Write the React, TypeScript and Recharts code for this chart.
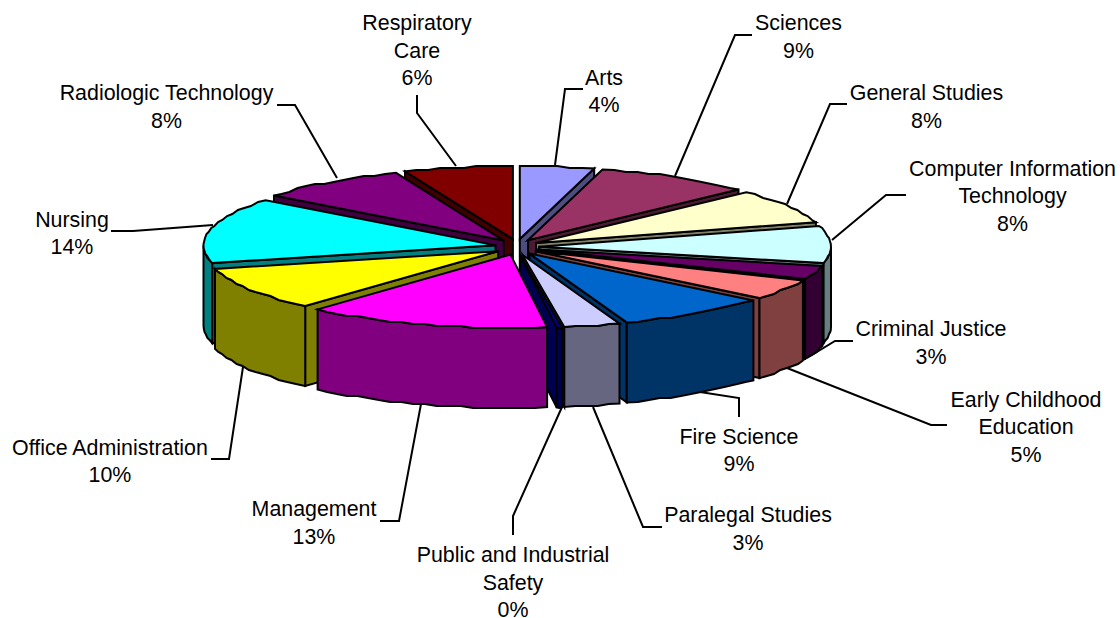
import { PieChart, Pie } from "recharts";

const programs = [
  "Arts", "Sciences", "General Studies", "Computer Information Technology", "Criminal Justice",
  "Early Childhood Education", "Fire Science", "Paralegal Studies", "Public and Industrial Safety",
  "Management", "Office Administration", "Nursing", "Radiologic Technology", "Respiratory Care",
];
const shares = [4.1, 8.7, 7.6, 8.2, 3.0, 4.5, 8.5, 3.1, 0.3, 13.49, 9.6, 14.49, 8.4, 6.02];
const shareLabels = ["4%", "9%", "8%", "8%", "3%", "5%", "9%", "3%", "0%", "13%", "10%", "14%", "8%", "6%"];
const topColors = [
  "#9999FF", "#993366", "#FFFFCC", "#CCFFFF", "#660066", "#FF8080", "#0066CC",
  "#CCCCFF", "#000080", "#FF00FF", "#FFFF00", "#00FFFF", "#800080", "#800000",
];
const sideColors = [
  "#4D4D80", "#4D1A33", "#808066", "#668080", "#330033", "#804040", "#003366",
  "#666680", "#000050", "#800080", "#808000", "#008080", "#400040", "#400000",
];

// back of the pie first, front last
const paintOrder = [13, 0, 12, 1, 11, 2, 3, 10, 4, 5, 6, 7, 8, 9];

const data = programs.map((name, i) => ({ name, share: shares[i] }));

const CX = 517;
const CY = 247;
const RX = 292;
const SQUASH = 0.25;
const DEPTH = 80;
const EXPLODE_X = 22;
const EXPLODE_Y = 8;
const STEP = 2; // the rim of the original is stair-stepped

// text lines with centre and first line y, then the leader line
const labelLayout: { lines: string[]; x: number; y: number; leader: number[][] }[] = [
  { lines: ["Arts"], x: 604, y: 77.5, leader: [[583, 89], [565, 89], [555, 165]] },
  { lines: ["Sciences"], x: 798.5, y: 23, leader: [[752, 35], [735, 35], [675, 176]] },
  { lines: ["General Studies"], x: 926.5, y: 93, leader: [[847, 104], [830, 104], [787, 204]] },
  { lines: ["Computer Information", "Technology"], x: 1012.5, y: 168.5, leader: [[906, 195], [886, 195], [832, 240]] },
  { lines: ["Criminal Justice"], x: 931, y: 329, leader: [[853, 341], [835, 341], [807, 358]] },
  { lines: ["Early Childhood", "Education"], x: 1026, y: 399.5, leader: [[947, 425], [931, 425], [787, 368]] },
  { lines: ["Fire Science"], x: 739, y: 436.5, leader: [[739, 417], [739, 398], [700, 392]] },
  { lines: ["Paralegal Studies"], x: 748, y: 515, leader: [[662, 527], [643, 527], [593, 407]] },
  { lines: ["Public and Industrial", "Safety"], x: 513, y: 555, leader: [[513, 535], [513, 516], [562, 407]] },
  { lines: ["Management"], x: 314, y: 509, leader: [[380, 521], [399, 521], [421, 404]] },
  { lines: ["Office Administration"], x: 110, y: 447.5, leader: [[211, 459], [229, 459], [243, 367]] },
  { lines: ["Nursing"], x: 72, y: 219.5, leader: [[111, 231], [133, 231], [213, 225]] },
  { lines: ["Radiologic Technology"], x: 166.5, y: 93, leader: [[277, 105], [295, 105], [337, 178]] },
  { lines: ["Respiratory", "Care"], x: 417, y: 23, leader: [[417, 95], [417, 113], [456, 166]] },
];

const rad = (deg: number) => (deg * Math.PI) / 180;

const toPath = (pts: number[][]) =>
  "M" + pts.map((p) => `${p[0].toFixed(1)},${p[1].toFixed(1)}`).join("L") + "Z";

// one slice as 3d block: hidden walls are skipped, clockwise angle 0 is the top
function Slice3D({ props, index }: { props: any; index: number }) {
  const { cx, cy, outerRadius, startAngle, endAngle } = props;
  const t0 = 90 - startAngle;
  const t1 = 90 - endAngle;
  const mid = rad((t0 + t1) / 2);
  const ax = cx + EXPLODE_X * Math.sin(mid);
  const ay = cy - EXPLODE_Y * Math.cos(mid);
  const at = (t: number, drop = 0) => [
    ax + outerRadius * Math.sin(rad(t)),
    ay - outerRadius * SQUASH * Math.cos(rad(t)) + drop,
  ];
  const arc = (from: number, to: number, drop = 0) => {
    const n = Math.max(2, Math.ceil((to - from) / 2.5));
    return Array.from({ length: n + 1 }, (_, i) => {
      const p = at(from + ((to - from) * i) / n);
      const inner = i > 0 && i < n;
      return [p[0], (inner ? Math.round(p[1] / STEP) * STEP : p[1]) + drop];
    });
  };
  const side = sideColors[index];
  const common = { stroke: "#000", strokeWidth: 2, strokeLinejoin: "miter" as const };
  const wall = (t: number) => {
    const a = at(t);
    const b = at(t, DEPTH);
    return toPath([[ax, ay], a, b, [ax, ay + DEPTH]]);
  };
  const lo = Math.max(t0, 90);
  const hi = Math.min(t1, 270);
  return (
    <g>
      {t1 < 180 && <path d={wall(t1)} fill={side} {...common} />}
      {t0 > 180 && <path d={wall(t0)} fill={side} {...common} />}
      {lo < hi && (
        <path d={toPath([...arc(lo, hi), ...arc(lo, hi, DEPTH).reverse()])} fill={side} {...common} />
      )}
      <path d={toPath([[ax, ay], ...arc(t0, t1)])} fill={topColors[index]} {...common} />
    </g>
  );
}

const renderLabel = (props: any) => {
  const index = programs.indexOf(props.name);
  const item = labelLayout[index];
  const rows = [...item.lines, shareLabels[index]];
  return (
    <g key={props.name}>
      <polyline points={item.leader.map((p) => p.join(",")).join(" ")} fill="none" stroke="#000" strokeWidth={2} />
      <text textAnchor="middle" fontFamily="Liberation Sans, Arial, sans-serif" fontSize={21.4} fill="#000">
        {rows.map((row, r) => (
          <tspan key={r} x={item.x} y={item.y + r * 27.6} dominantBaseline="central">
            {row}
          </tspan>
        ))}
      </text>
    </g>
  );
};

export default function App() {
  return (
    <div style={{ position: "absolute", left: 0, top: 0, width: 1120, height: 618, background: "#fff" }}>
      <PieChart width={1120} height={618} margin={{ top: 0, right: 0, bottom: 0, left: 0 }}>
        {paintOrder.map((idx) => (
          <Pie
            key={programs[idx]}
            data={data}
            dataKey="share"
            nameKey="name"
            cx={CX}
            cy={CY}
            innerRadius={0}
            outerRadius={RX}
            startAngle={90}
            endAngle={-270}
            isAnimationActive={false}
            labelLine={false}
            shape={(p: any) => (p.name === programs[idx] ? <Slice3D props={p} index={idx} /> : <g />)}
          />
        ))}
        <Pie
          data={data}
          dataKey="share"
          nameKey="name"
          cx={CX}
          cy={CY}
          outerRadius={RX}
          startAngle={90}
          endAngle={-270}
          isAnimationActive={false}
          labelLine={false}
          label={renderLabel}
          shape={() => <g />}
        />
      </PieChart>
    </div>
  );
}
